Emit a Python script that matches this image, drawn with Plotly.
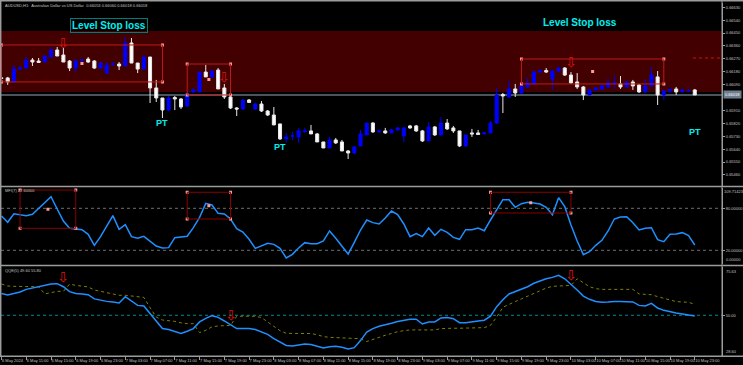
import numpy as np
import pandas as pd
import plotly.graph_objects as go

W, H = 743, 365

# ---------------- data (prices in 1e-5 units) ----------------
start_time = "2024-05-06 07:00"
open_pts = [66137, 66137, 66109, 66199, 66206, 66262, 66255, 66248, 66283, 66332,
            66297, 66255, 66206, 66259, 66269, 66255, 66206, 66171, 66234, 66234,
            66220, 66381, 66241, 66199, 66283, 66067, 65997, 65913, 66000, 65990,
            65941, 66039, 66039, 66178, 66144, 66192, 66067, 66004, 65927, 65920,
            65983, 65920, 65955, 65906, 65878, 65816, 65711, 65732, 65725, 65763,
            65767, 65746, 65690, 65648, 65704, 65690, 65627, 65613, 65662, 65739,
            65822, 65760, 65767, 65753, 65774, 65732, 65802, 65802, 65767, 65697,
            65795, 65739, 65822, 65788, 65767, 65662, 65753, 65753, 65746, 65753,
            65822, 66021, 66004, 66060, 66032, 66074, 66095, 66178, 66189, 66130,
            66185, 66206, 66157, 66109, 66074, 66018, 66053, 66060, 66074, 66102,
            66095, 66074, 66109, 66088, 66039, 66081, 66144, 66018, 66046, 66060,
            66042, 66046, 66053]
high_pts = [66144, 66144, 66227, 66220, 66283, 66276, 66276, 66297, 66353, 66353,
            66346, 66262, 66269, 66269, 66283, 66262, 66248, 66248, 66248, 66248,
            66423, 66416, 66241, 66283, 66283, 66123, 65997, 66011, 66011, 65997,
            66039, 66067, 66178, 66227, 66192, 66206, 66095, 66018, 65934, 65990,
            65990, 65962, 65976, 65913, 65934, 65816, 65753, 65760, 65788, 65788,
            65809, 65753, 65690, 65725, 65718, 65704, 65634, 65662, 65774, 65822,
            65829, 65774, 65788, 65781, 65795, 65795, 65809, 65809, 65774, 65829,
            65802, 65864, 65850, 65802, 65767, 65739, 65781, 65774, 65760, 65836,
            66067, 66032, 66116, 66095, 66088, 66137, 66185, 66199, 66206, 66192,
            66213, 66213, 66178, 66171, 66081, 66060, 66074, 66095, 66130, 66157,
            66150, 66116, 66123, 66095, 66123, 66213, 66185, 66053, 66067, 66074,
            66060, 66060, 66060]
low_pts = [66123, 66088, 66109, 66192, 66206, 66220, 66241, 66248, 66283, 66290,
           66248, 66185, 66178, 66241, 66241, 66199, 66199, 66164, 66220, 66192,
           66220, 66241, 66171, 66199, 65962, 65969, 65857, 65906, 65913, 65920,
           65934, 66032, 66039, 66144, 66137, 66060, 65990, 65920, 65871, 65913,
           65962, 65913, 65899, 65871, 65809, 65704, 65690, 65704, 65683, 65753,
           65746, 65690, 65648, 65648, 65676, 65627, 65571, 65606, 65662, 65739,
           65753, 65753, 65746, 65753, 65767, 65690, 65781, 65760, 65690, 65697,
           65732, 65732, 65774, 65753, 65655, 65655, 65725, 65739, 65746, 65753,
           65816, 65892, 65997, 66004, 66025, 66067, 66088, 66171, 66171, 66053,
           66178, 66150, 66095, 66060, 65983, 66018, 66046, 66053, 66067, 66060,
           66060, 66067, 66053, 66032, 66032, 66074, 65948, 65983, 66032, 66018,
           66032, 66039, 66018]
close_pts = [66134, 66109, 66199, 66206, 66262, 66248, 66245, 66290, 66332, 66290,
             66248, 66206, 66255, 66262, 66248, 66206, 66241, 66227, 66234, 66220,
             66381, 66241, 66199, 66283, 66067, 65997, 65913, 65997, 65990, 65934,
             66025, 66053, 66178, 66144, 66185, 66060, 66004, 65927, 65920, 65983,
             65966, 65955, 65906, 65878, 65809, 65711, 65725, 65732, 65767, 65767,
             65746, 65690, 65648, 65704, 65683, 65627, 65613, 65655, 65746, 65822,
             65760, 65767, 65753, 65774, 65788, 65788, 65788, 65767, 65697, 65795,
             65739, 65822, 65781, 65767, 65662, 65739, 65746, 65742, 65753, 65822,
             66018, 66011, 66060, 66032, 66081, 66102, 66178, 66189, 66178, 66185,
             66206, 66157, 66102, 66074, 66018, 66053, 66067, 66081, 66102, 66102,
             66074, 66109, 66081, 66039, 66081, 66157, 66018, 66046, 66056, 66039,
             66053, 66049, 66018]

mfi_vals = [69.0, 60.0, 72.3, 71.4, 69.5, 71.4, 80.0, 88.5, 96.6, 79.0,
            61.9, 51.4, 50.9, 49.5, 42.8, 27.1, 39.5, 53.8, 69.5, 50.0,
            56.6, 39.5, 37.1, 40.0, 33.3, 26.1, 23.3, 23.8, 38.0, 39.0,
            40.0, 52.3, 67.1, 87.1, 84.7, 72.8, 71.9, 64.7, 50.9, 46.1,
            35.7, 22.8, 26.6, 30.0, 28.5, 22.8, 9.0, 14.2, 23.3, 30.9,
            29.5, 29.5, 33.3, 47.6, 37.1, 26.6, 14.7, 31.4, 49.0, 63.3,
            59.5, 57.6, 66.1, 76.1, 70.9, 57.6, 39.5, 43.8, 39.5, 51.9,
            41.4, 50.0, 45.7, 38.5, 35.7, 49.5, 49.5, 51.9, 48.0, 63.3,
            78.5, 92.3, 92.3, 81.4, 86.6, 88.5, 87.6, 86.1, 81.4, 70.9,
            95.2, 82.3, 56.1, 33.3, 13.8, 18.0, 27.1, 34.2, 47.6, 64.7,
            67.6, 68.0, 59.5, 49.0, 51.4, 52.3, 35.2, 32.3, 42.8, 43.3,
            45.2, 40.9, 27.6]

qqe_rsi = [61.4, 60.7, 61.4, 62.2, 63.6, 64.3, 64.9, 65.6, 66.4, 66.6,
           65.0, 62.4, 61.4, 61.2, 60.8, 58.6, 57.9, 57.3, 57.0, 56.5,
           59.8, 57.5, 55.2, 54.9, 50.9, 46.8, 43.0, 42.5, 41.6, 40.5,
           41.6, 43.0, 46.5, 48.4, 49.8, 48.9, 47.0, 45.1, 43.0, 43.0,
           43.0, 42.5, 41.2, 40.0, 37.7, 35.8, 34.1, 33.9, 34.4, 34.9,
           34.6, 33.5, 32.8, 33.5, 33.7, 33.2, 32.3, 33.0, 36.7, 41.2,
           43.0, 44.2, 44.9, 45.8, 46.7, 47.4, 47.9, 47.9, 45.4, 46.5,
           46.5, 48.6, 48.8, 48.2, 46.1, 46.1, 46.7, 47.0, 47.4, 49.5,
           54.5, 58.2, 61.2, 62.4, 64.0, 65.0, 66.8, 68.0, 69.2, 69.9,
           71.0, 69.2, 66.4, 63.3, 60.1, 58.4, 57.2, 56.8, 57.0, 57.3,
           57.2, 57.0, 57.0, 55.2, 54.9, 56.3, 53.8, 52.6, 51.7, 51.2,
           50.7, 50.3, 49.6]

qqe_trail = [66.4, 65.4, 65.2, 65.2, 65.2, 65.2, 65.0, 61.2, 62.1, 62.6,
             62.6, 66.4, 65.7, 65.4, 64.9, 63.3, 62.6, 62.2, 61.2, 60.5,
             60.5, 60.1, 59.8, 59.4, 54.0, 49.1, 47.5, 47.2, 46.8, 46.0,
             45.6, 45.6, 40.9, 42.1, 43.9, 44.4, 44.4, 44.7, 49.5, 49.5,
             49.5, 49.5, 48.8, 46.5, 44.4, 41.9, 40.5, 40.4, 40.4, 40.4,
             40.4, 39.8, 38.8, 38.4, 38.3, 38.1, 38.1, 38.1, 37.7, 36.2,
             37.4, 38.4, 39.5, 40.4, 41.4, 41.9, 42.3, 42.3, 42.3, 42.3,
             42.3, 43.0, 43.2, 43.2, 43.2, 43.3, 43.3, 43.3, 43.5, 44.7,
             49.1, 54.2, 55.9, 57.2, 58.6, 60.0, 61.5, 62.9, 64.3, 65.2,
             65.4, 65.4, 65.7, 69.2, 67.1, 65.0, 64.0, 63.6, 63.6, 63.6,
             63.6, 63.6, 63.6, 61.2, 61.0, 60.8, 59.8, 58.9, 57.9, 57.2,
             57.0, 56.8, 55.8]

# chart objects (bar indices and levels)
main_box_bars = [(0, 26), (30, 37), (84, 107)]
main_box_prices = [(0.66109, 0.66367), (0.66018, 0.66234), (0.66095, 0.66269)]
mfi_box_bars = [(3, 12), (30, 37), (79, 92)]
mfi_box_levels = [(51.4, 106.1), (64.7, 102.9), (73.3, 102.9)]
sl_zone = (0.66039, 0.66465)
sl_label_bars = [17.4, 93.5]
sl_label_prices = [0.66503, 0.66524]
pt_bars = [26, 45, 112]
pt_prices = [0.65820, 0.65657, 0.65762]
sig_main_bars = [10, 36, 92]
sig_main_prices = [0.66383, 0.66144, 0.66250]
sig_qqe_bars = [10, 37, 92]
sig_qqe_vals = [70.1, 50.3, 71.0]
alert_price = 0.66276
alert_from_bar = 111.7

price_ticks = [0.66630, 0.66540, 0.66450, 0.66360, 0.66270, 0.66180, 0.66090,
               0.65910, 0.65820, 0.65730, 0.65640, 0.65550, 0.65460]
price_range = (0.65386, 0.66660)
mfi_range = (0.0, 109.71423)
mfi_levels = [20.0, 80.0]
qqe_range = (28.60, 75.63)
qqe_level = 50.0

# ---------------- build ----------------
o = np.array(open_pts) / 1e5
h = np.array(high_pts) / 1e5
l = np.array(low_pts) / 1e5
c = np.array(close_pts) / 1e5
times = pd.date_range(start_time, periods=len(c), freq="h")


def t_at(i):
    return times[0] + pd.Timedelta(hours=float(i))


def pxx(x):
    return x / W


def pxy(y):
    return 1 - y / H


XD = [pxx(1), pxx(722)]
D1 = [pxy(185.5), pxy(3)]
D2 = [pxy(264.3), pxy(187.5)]
D3 = [pxy(356), pxy(266.5)]
xr = [t_at(-0.08), t_at(116.4)]

fig = go.Figure()

fig.add_trace(go.Candlestick(
    x=times, open=o, high=h, low=l, close=c,
    increasing=dict(line=dict(color="#0000ff", width=1), fillcolor="#0000ff"),
    decreasing=dict(line=dict(color="#e8e8e8", width=1), fillcolor="#ffffff"),
    whiskerwidth=0, xaxis="x", yaxis="y", hoverinfo="skip", showlegend=False))

fig.add_trace(go.Scatter(x=times, y=mfi_vals, mode="lines",
                         line=dict(color="#1e90ff", width=1.5),
                         xaxis="x2", yaxis="y2", hoverinfo="skip", showlegend=False))

fig.add_trace(go.Scatter(x=times, y=qqe_trail, mode="lines",
                         line=dict(color="#808000", width=1, dash="dot"),
                         xaxis="x3", yaxis="y3", hoverinfo="skip", showlegend=False))
fig.add_trace(go.Scatter(x=times, y=qqe_rsi, mode="lines",
                         line=dict(color="#1e90ff", width=1.5),
                         xaxis="x3", yaxis="y3", hoverinfo="skip", showlegend=False))

shapes = []
shapes.append(dict(type="rect", xref="x domain", yref="y", x0=0, x1=1,
                   y0=sl_zone[0], y1=sl_zone[1], fillcolor="#420000",
                   line=dict(width=0), layer="below"))
shapes.append(dict(type="line", xref="x domain", yref="y", x0=0, x1=1,
                   y0=c[-1], y1=c[-1], line=dict(color="#4a545c", width=2), layer="below"))
shapes.append(dict(type="line", xref="x", yref="y", x0=t_at(alert_from_bar), x1=xr[1],
                   y0=alert_price, y1=alert_price,
                   line=dict(color="#d01010", width=1, dash="dot")))

anchor_x, anchor_y, anchor_x2, anchor_y2 = [], [], [], []
for (b0, b1), (p0, p1) in zip(main_box_bars, main_box_prices):
    shapes.append(dict(type="rect", xref="x", yref="y", x0=t_at(b0), x1=t_at(b1),
                       y0=p0, y1=p1, line=dict(color="#c01818", width=1)))
    for bx, py in [(b0, p0), (b0, p1), (b1, p0), (b1, p1), ((b0 + b1) / 2, (p0 + p1) / 2)]:
        anchor_x.append(t_at(bx)); anchor_y.append(py)
for (b0, b1), (v0, v1) in zip(mfi_box_bars, mfi_box_levels):
    shapes.append(dict(type="rect", xref="x2", yref="y2", x0=t_at(b0), x1=t_at(b1),
                       y0=v0, y1=v1, line=dict(color="#8b0000", width=1)))
    for bx, vy in [(b0, v0), (b0, v1), (b1, v0), (b1, v1), ((b0 + b1) / 2, (v0 + v1) / 2)]:
        anchor_x2.append(t_at(bx)); anchor_y2.append(vy)

fig.add_trace(go.Scatter(x=anchor_x, y=anchor_y, mode="markers",
                         marker=dict(symbol="square", size=3, color="#ff9a9a"),
                         xaxis="x", yaxis="y", hoverinfo="skip", showlegend=False))
fig.add_trace(go.Scatter(x=anchor_x2, y=anchor_y2, mode="markers",
                         marker=dict(symbol="square", size=3, color="#ff9a9a"),
                         xaxis="x2", yaxis="y2", hoverinfo="skip", showlegend=False))

for lv in mfi_levels:
    shapes.append(dict(type="line", xref="x2 domain", yref="y2", x0=0, x1=1, y0=lv, y1=lv,
                       line=dict(color="#707070", width=1, dash="dot"), layer="below"))
shapes.append(dict(type="line", xref="x3 domain", yref="y3", x0=0, x1=1, y0=qqe_level, y1=qqe_level,
                   line=dict(color="#008b8b", width=1, dash="dot"), layer="below"))

sep = "#9c9c9c"
for yy in [0.8, 186.5, 265.5, 356.2]:
    shapes.append(dict(type="line", xref="paper", yref="paper", x0=0, x1=1,
                       y0=pxy(yy), y1=pxy(yy), line=dict(color=sep, width=1.5)))
shapes.append(dict(type="line", xref="paper", yref="paper", x0=pxx(0.7), x1=pxx(0.7),
                   y0=pxy(356.2), y1=pxy(0.8), line=dict(color=sep, width=1.5)))
shapes.append(dict(type="line", xref="paper", yref="paper", x0=pxx(722), x1=pxx(722),
                   y0=pxy(356.2), y1=pxy(0.8), line=dict(color=sep, width=1)))

ann = []
small = dict(family="Liberation Sans, Arial", size=4, color="#c4c4c4")
ann.append(dict(xref="paper", yref="paper", x=pxx(3), y=pxy(5), xanchor="left", yanchor="middle",
                text="AUDUSD,H1:  Australian Dollar vs US Dollar  %.5f %.5f %.5f %.5f" % (o[-1], h[-1], l[-1], c[-1]),
                showarrow=False, font=small))
ann.append(dict(xref="paper", yref="paper", x=pxx(3), y=pxy(191), xanchor="left", yanchor="middle",
                text="MFI(7) %.5f" % mfi_vals[-1], showarrow=False, font=small))
ann.append(dict(xref="paper", yref="paper", x=pxx(3), y=pxy(270.5), xanchor="left", yanchor="middle",
                text="QQE(5) %.2f %.2f" % (qqe_rsi[-1], qqe_trail[-1]), showarrow=False, font=small))
# pane extreme labels (MT4 draws them inside the pane edges)
ann.append(dict(xref="paper", yref="paper", x=pxx(722.5), y=pxy(187.5), xanchor="left", yanchor="top",
                text="%.5f" % mfi_range[1], showarrow=False, font=small, borderpad=0))
ann.append(dict(xref="paper", yref="paper", x=pxx(724), y=pxy(264.3), xanchor="left", yanchor="bottom",
                text="%.5f" % mfi_range[0], showarrow=False, font=small))
ann.append(dict(xref="paper", yref="paper", x=pxx(724), y=pxy(266.5), xanchor="left", yanchor="top",
                text="%.2f" % qqe_range[1], showarrow=False, font=small))
ann.append(dict(xref="paper", yref="paper", x=pxx(724), y=pxy(356), xanchor="left", yanchor="bottom",
                text="%.2f" % qqe_range[0], showarrow=False, font=small))
# current price tag
ann.append(dict(xref="paper", yref="y", x=pxx(723), y=c[-1], xanchor="left", yanchor="middle",
                text="%.5f" % c[-1], showarrow=False, bgcolor="#6e7e8e", borderpad=1,
                font=dict(family="Liberation Sans, Arial", size=4, color="#ffffff")))

big = dict(family="Liberation Sans, Arial", size=10, color="#00f0f0", weight="bold")
for k, (b, p) in enumerate(zip(sl_label_bars, sl_label_prices)):
    a = dict(xref="x", yref="y", x=t_at(b), y=p, text="Level Stop loss", showarrow=False,
             font=big, xanchor="center", yanchor="middle")
    if k == 0:
        a.update(bordercolor="#007a7a", borderwidth=1, borderpad=1)
    ann.append(a)
for b, p in zip(pt_bars, pt_prices):
    ann.append(dict(xref="x", yref="y", x=times[b], y=p, text="PT", showarrow=False,
                    font=dict(family="Liberation Sans, Arial", size=9, color="#00f0f0", weight="bold"),
                    xanchor="center", yanchor="middle"))
arrow_font = dict(family="DejaVu Sans", size=14, color="#e01010")
for b, p in zip(sig_main_bars, sig_main_prices):
    ann.append(dict(xref="x", yref="y", x=times[b], y=p, text="⇩", showarrow=False,
                    font=arrow_font, xanchor="center", yanchor="middle"))
for b, v in zip(sig_qqe_bars, sig_qqe_vals):
    ann.append(dict(xref="x3", yref="y3", x=times[b], y=v, text="⇩", showarrow=False,
                    font=arrow_font, xanchor="center", yanchor="middle"))

tick_bars = list(range(0, len(times), 4))
tick_vals = [times[i] for i in tick_bars]
tick_text = [("%d %s %d" % (t.day, t.strftime("%b"), t.year)) if k == 0
             else ("%d %s" % (t.day, t.strftime("%b %H:%M"))) for k, t in enumerate(tick_vals)]

axfont = dict(family="Liberation Sans, Arial", size=4, color="#c4c4c4")
common_x = dict(domain=XD, range=xr, showgrid=False, zeroline=False, showline=False,
                rangeslider=dict(visible=False))
common_y = dict(side="right", showgrid=False, zeroline=False, showline=True, linecolor=sep,
                linewidth=1, ticks="outside", ticklen=2, tickcolor=sep, tickfont=axfont)

fig.update_layout(
    width=W, height=H, margin=dict(l=0, r=0, t=0, b=0),
    paper_bgcolor="#000000", plot_bgcolor="#000000",
    showlegend=False, hovermode=False,
    shapes=shapes, annotations=ann,
    xaxis=dict(**common_x, anchor="y", showticklabels=False),
    xaxis2=dict(**common_x, anchor="y2", matches="x", showticklabels=False),
    xaxis3=dict(**common_x, anchor="y3", matches="x", tickvals=tick_vals, ticktext=tick_text,
                ticks="outside", ticklen=3, tickcolor=sep, tickfont=axfont, tickangle=0,
                ticklabelposition="outside right"),
    yaxis=dict(**common_y, domain=D1, anchor="x", range=list(price_range),
               tickvals=price_ticks, tickformat=".5f"),
    yaxis2=dict(**common_y, domain=D2, anchor="x2", range=list(mfi_range),
                tickvals=mfi_levels, tickformat=".5f"),
    yaxis3=dict(**common_y, domain=D3, anchor="x3", range=list(qqe_range),
                tickvals=[qqe_level], tickformat=".2f"),
)

fig.write_html("out.html")
